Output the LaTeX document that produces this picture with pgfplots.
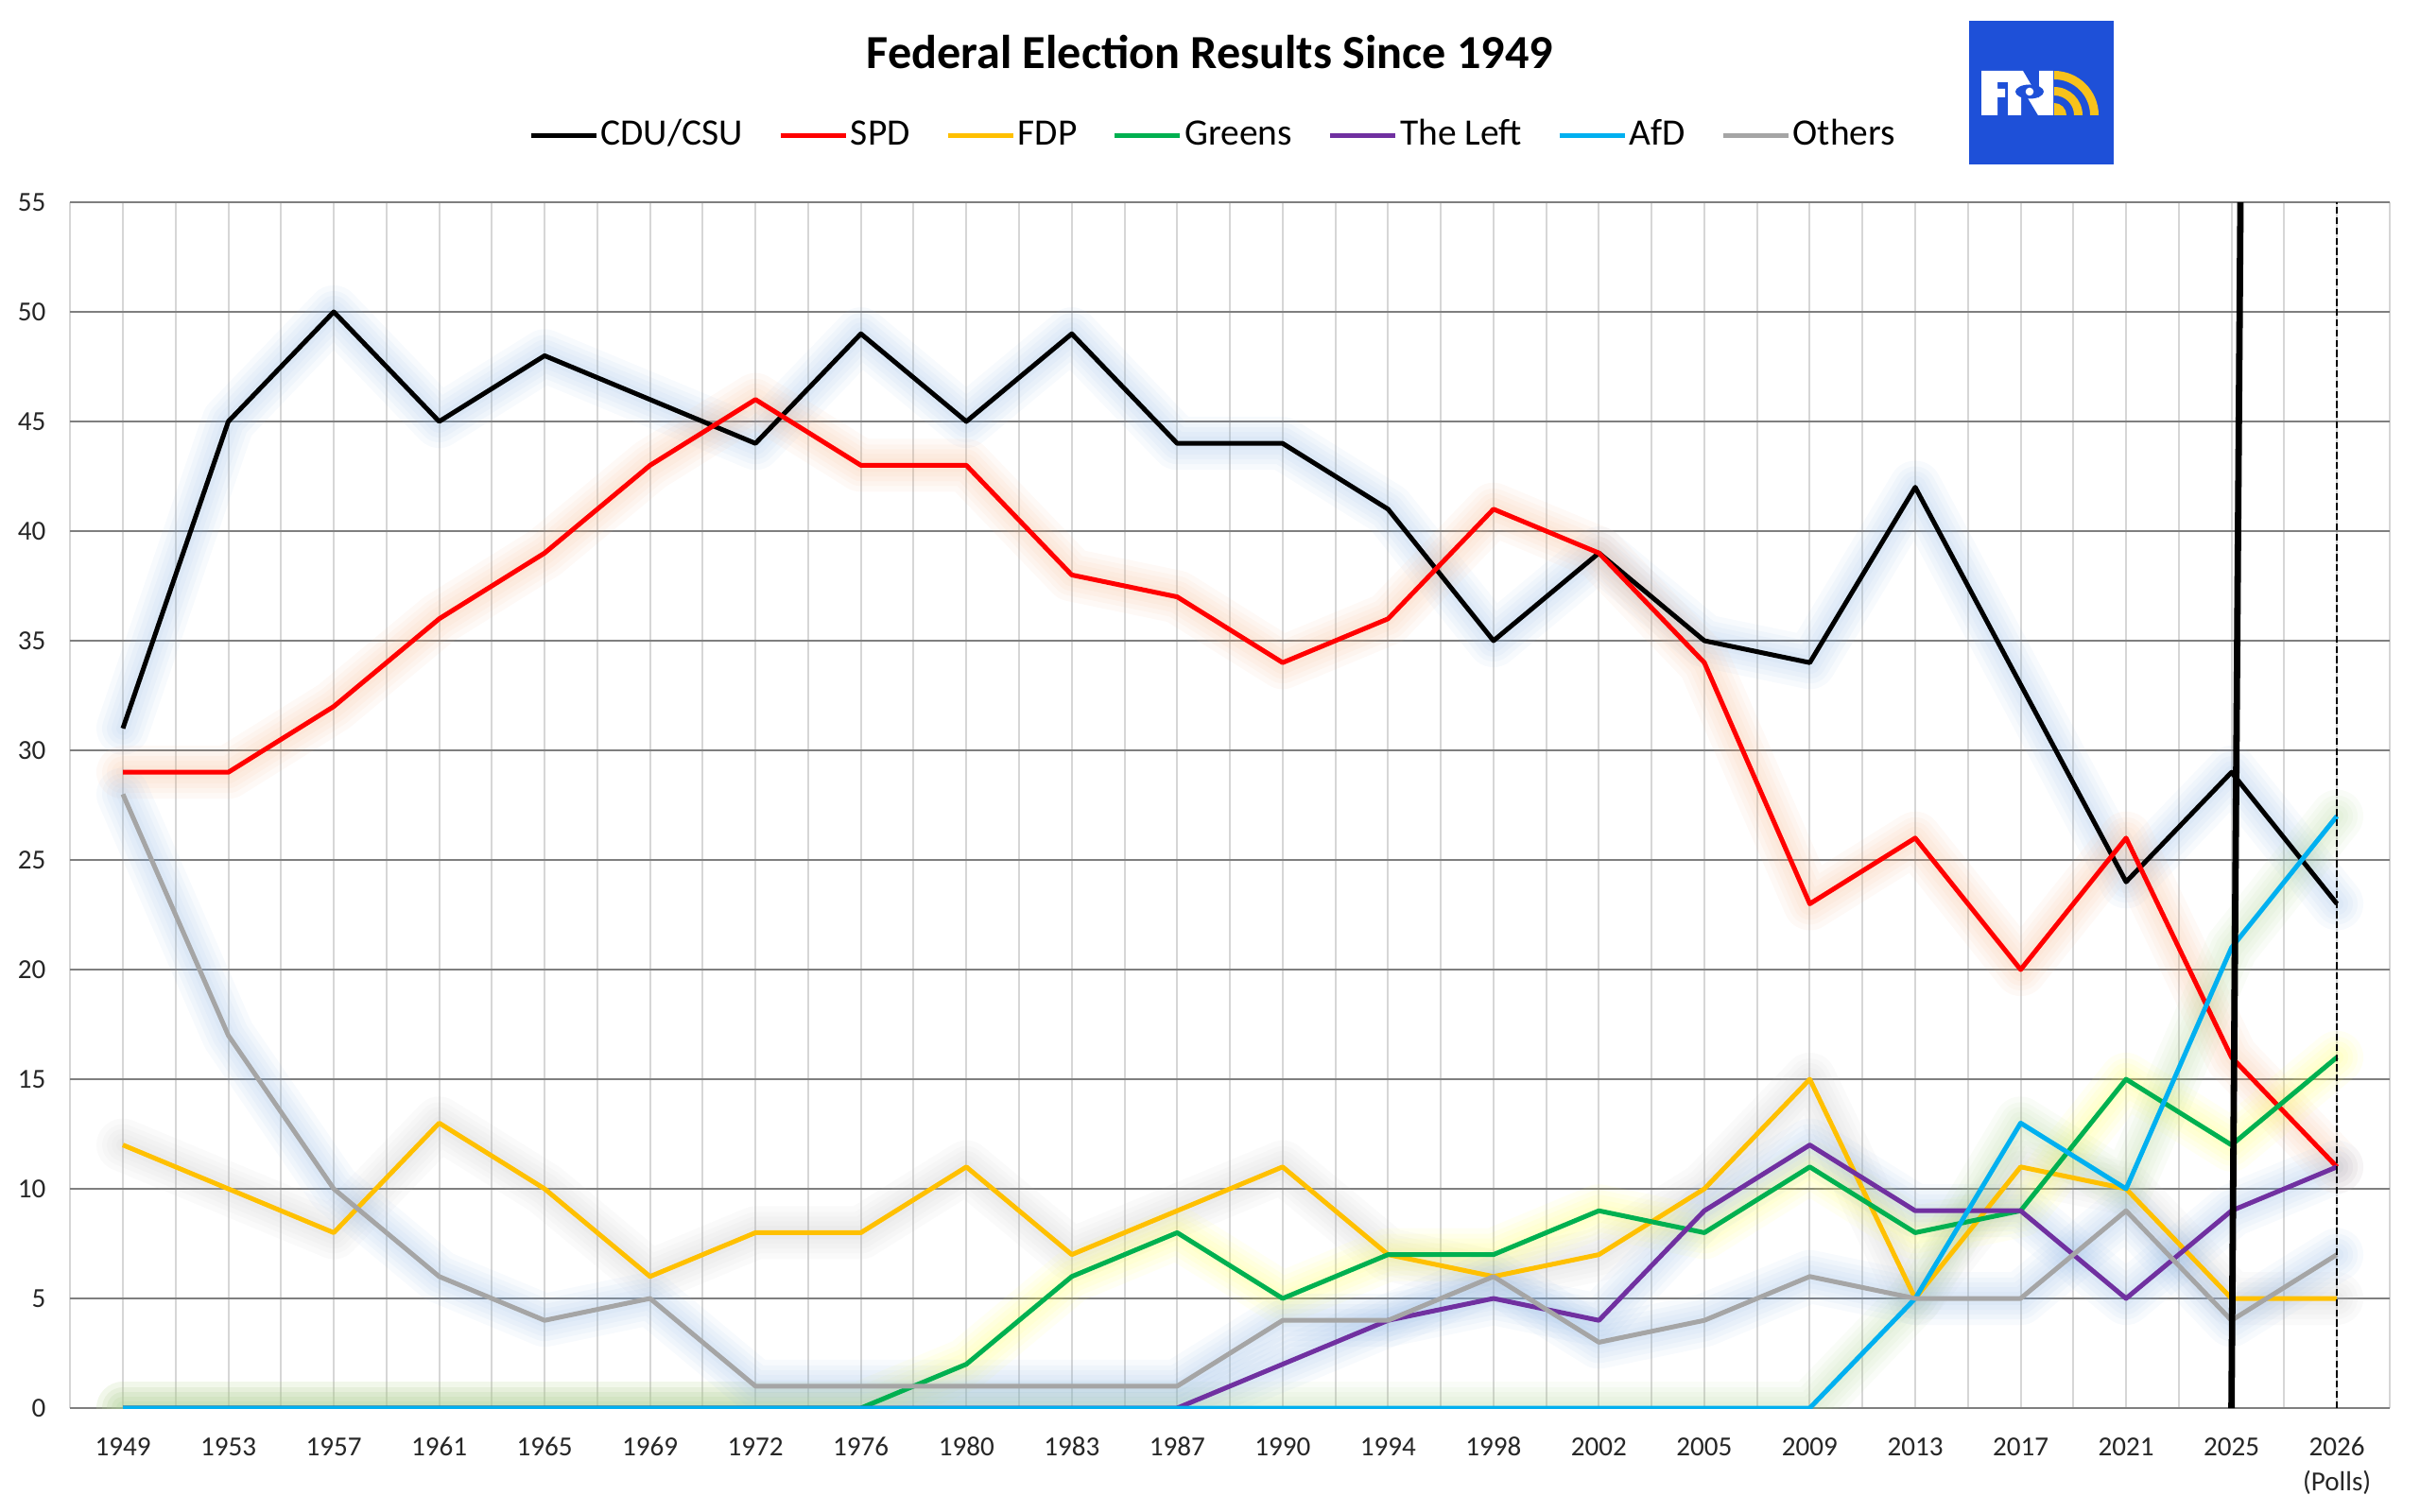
\documentclass[border=0pt]{standalone}
\usepackage{pgfplots}
\usepackage{pgfplotstable}
\pgfplotsset{compat=1.18}
\usepackage{fontspec}
\setmainfont{Carlito}

\definecolor{cdu}{HTML}{000000}
\definecolor{spd}{HTML}{FF0000}
\definecolor{fdp}{HTML}{FFC000}
\definecolor{grn}{HTML}{00B050}
\definecolor{lnk}{HTML}{7030A0}
\definecolor{afd}{HTML}{00B0F0}
\definecolor{oth}{HTML}{A5A5A5}
\definecolor{gblue}{HTML}{8EB4E3}
\definecolor{gorange}{HTML}{F4B183}
\definecolor{ggrey}{HTML}{BFBFBF}
\definecolor{gyellow}{HTML}{FFFF55}
\definecolor{ggreen}{HTML}{A9D18E}
\definecolor{gridlight}{HTML}{D6D6D6}
\definecolor{griddark}{HTML}{7F7F7F}
\definecolor{logoblue}{HTML}{1E50D8}
\definecolor{logoyellow}{HTML}{F7C21B}

\pgfplotstableread{
x cdu spd fdp grn lnk afd oth
0 31 29 12 0 0 0 28
1 45 29 10 0 0 0 17
2 50 32 8 0 0 0 10
3 45 36 13 0 0 0 6
4 48 39 10 0 0 0 4
5 46 43 6 0 0 0 5
6 44 46 8 0 0 0 1
7 49 43 8 0 0 0 1
8 45 43 11 2 0 0 1
9 49 38 7 6 0 0 1
10 44 37 9 8 0 0 1
11 44 34 11 5 2 0 4
12 41 36 7 7 4 0 4
13 35 41 6 7 5 0 6
14 39 39 7 9 4 0 3
15 35 34 10 8 9 0 4
16 34 23 15 11 12 0 6
17 42 26 5 8 9 5 5
18 33 20 11 9 9 13 5
19 24 26 10 15 5 10 9
20 29 16 5 12 9 21 4
21 23 11 5 16 11 27 7
}\elec

\pgfplotsset{glowline/.style={forget plot, draw=#1, line join=round, line cap=round, opacity=0.07}}
\newcommand\glow[2]{%
  \addplot[glowline=#2, line width=14bp] table[x=x,y=#1]{\elec};
  \addplot[glowline=#2, line width=11bp] table[x=x,y=#1]{\elec};
  \addplot[glowline=#2, line width=8.5bp] table[x=x,y=#1]{\elec};
  \addplot[glowline=#2, line width=6bp] table[x=x,y=#1]{\elec};
  \addplot[glowline=#2, line width=3.5bp] table[x=x,y=#1]{\elec};
}

\begin{document}
\begin{tikzpicture}[x=1bp,y=1bp]
\useasboundingbox (0,0) rectangle (640,399.75);

% title
\node[anchor=base, inner sep=0pt, font=\fontsize{12.6}{15}\selectfont\bfseries] at (320,381.75) {Federal Election Results Since 1949};

% logo
\fill[logoblue] (520.75,356.25) rectangle (558.9,394.25);
\begin{scope}[shift={(0bp,399.75bp)}, x=0.25bp, y=-0.25bp]
  \fill[white] (2096,75) -- (2124,75) -- (2124,87) -- (2113,87) -- (2113,94) -- (2121,94) -- (2121,103) -- (2113,103) -- (2113,122) -- (2096,122) -- cycle;
  \fill[white] (2124,75) -- (2140,75) -- (2157,104) -- (2157,75) -- (2172,75) -- (2172,122) -- (2156,122) -- (2138,92) -- (2138,122) -- (2124,122) -- cycle;
  \fill[logoblue] (2147,97) ellipse [x radius=15, y radius=7.5];
  \fill[white] (2147,97) circle [radius=4.3];
\end{scope}
\fill[logoyellow] (543.25,369.25) -- ++(3.25,0) arc[start angle=0, end angle=90, radius=3.25] -- cycle;
\fill[logoyellow] (548.5,369.25) -- (550.75,369.25) arc[start angle=0, end angle=90, radius=7.5] -- (543.25,374.5) arc[start angle=90, end angle=0, radius=5.25] -- cycle;
\fill[logoyellow] (552.75,369.25) -- (555,369.25) arc[start angle=0, end angle=90, radius=11.75] -- (543.25,378.75) arc[start angle=90, end angle=0, radius=9.5] -- cycle;

\begin{axis}[
  at={(18.56bp,27.25bp)}, anchor=south west,
  scale only axis, width=613.4bp, height=319bp,
  xmin=-0.5, xmax=21.5, ymin=0, ymax=55,
  clip mode=individual,
  axis line style={draw=none},
  tick style={draw=none},
  major tick length=0pt, minor tick length=0pt,
  xtick={0,...,21},
  xticklabels={1949,1953,1957,1961,1965,1969,1972,1976,1980,1983,1987,1990,1994,1998,2002,2005,2009,2013,2017,2021,2025,2026},
  minor xtick={-0.5,0.5,...,21.5},
  ytick={0,5,...,55},
  xmajorgrids, xminorgrids, ymajorgrids,
  x grid style={draw=gridlight, line width=0.5bp},
  y grid style={draw=griddark, line width=0.5bp},
  minor grid style={line width=0.5bp},
  /pgf/number format/assume math mode=true,
  xticklabel style={font=\fontsize{7.3}{9}\selectfont, text=black!85, anchor=base, inner sep=0pt, yshift=-12.5bp},
  yticklabel style={font=\fontsize{7.3}{9}\selectfont, text=black!85, anchor=east, inner sep=0pt, xshift=-6.3bp},
  legend columns=7,
  legend style={draw=none, fill=none, inner sep=0pt, outer sep=0pt,
    at={(axis description cs:0.1975,1.0553)}, anchor=west,
    font=\fontsize{9.9}{11}\selectfont, column sep=0pt,
    nodes={inner sep=0pt, text height=6.9bp, text depth=2bp},
    /tikz/every odd column/.append style={column sep=0.6bp},
    /tikz/every even column/.append style={column sep=9.3bp}},
  legend cell align=left,
  legend image code/.code={\draw[#1, line width=1.35bp] (0bp,0bp) -- (17.25bp,0bp);},
]
\glow{cdu}{gblue}
\glow{spd}{gorange}
\glow{fdp}{ggrey}
\glow{grn}{gyellow}
\glow{lnk}{gblue}
\glow{afd}{ggreen}
\glow{oth}{gblue}

\addplot[draw=cdu, line width=1.25bp, line join=round] table[x=x,y=cdu]{\elec};
\addlegendentry{CDU/CSU}
\addplot[draw=spd, line width=1.25bp, line join=round] table[x=x,y=spd]{\elec};
\addlegendentry{SPD}
\addplot[draw=fdp, line width=1.25bp, line join=round] table[x=x,y=fdp]{\elec};
\addlegendentry{FDP}
\addplot[draw=grn, line width=1.25bp, line join=round] table[x=x,y=grn]{\elec};
\addlegendentry{Greens}
\addplot[draw=lnk, line width=1.25bp, line join=round] table[x=x,y=lnk]{\elec};
\addlegendentry{The Left}
\addplot[draw=afd, line width=1.25bp, line join=round] table[x=x,y=afd]{\elec};
\addlegendentry{AfD}
\addplot[draw=oth, line width=1.25bp, line join=round] table[x=x,y=oth]{\elec};
\addlegendentry{Others}

\addplot[forget plot, draw=black, line width=1.7bp] coordinates {(20,0) (20.085,55)};
\addplot[forget plot, draw=black, line width=0.65bp, dash pattern=on 1.8bp off 0.9bp] coordinates {(21,0) (21,55)};

\node[anchor=base, inner sep=0pt, font=\fontsize{7.3}{9}\selectfont, text=black!85, yshift=-21.75bp] at (axis cs:21,0) {(Polls)};
\end{axis}
\end{tikzpicture}
\end{document}
